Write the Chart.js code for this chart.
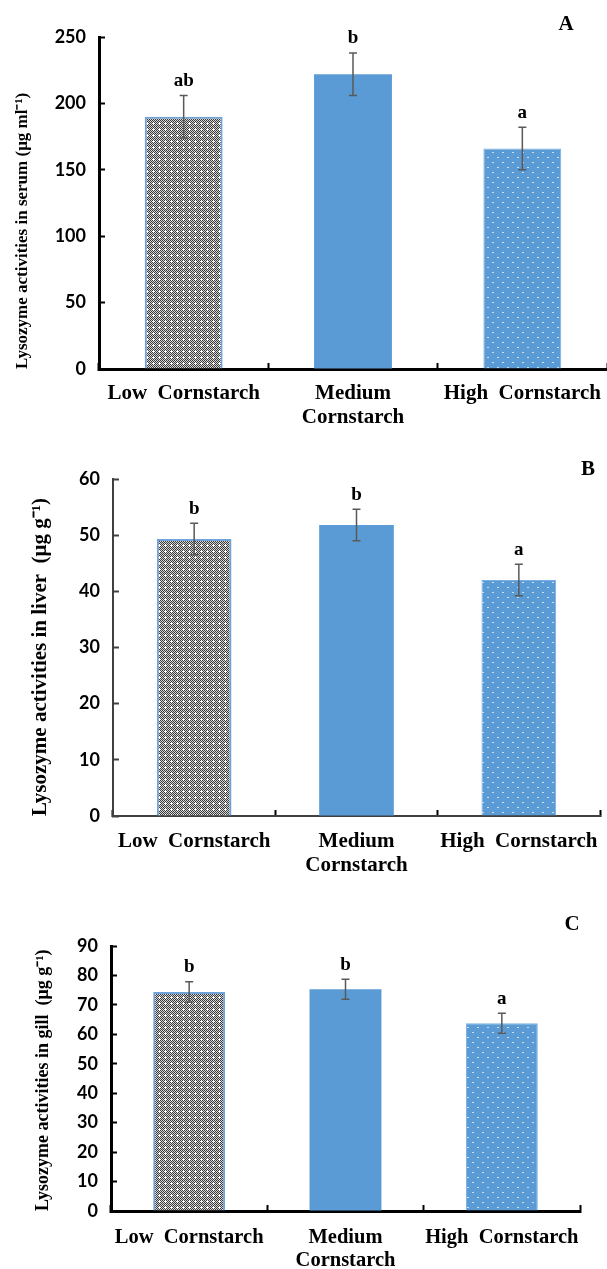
<!DOCTYPE html>
<html>
<head>
<meta charset="utf-8">
<script src="https://cdn.jsdelivr.net/npm/chart.js@4.4.1/dist/chart.umd.min.js"></script>
<style>
  html, body { margin: 0; padding: 0; background: #fff; }
  #wrap { position: relative; width: 607px; height: 1269px; }
  canvas { position: absolute; left: 0; }
</style>
</head>
<body>
<div id="wrap">
  <canvas id="chartA" style="top:0px"></canvas>
  <canvas id="chartB" style="top:440px"></canvas>
  <canvas id="chartC" style="top:880px"></canvas>
</div>
<script>
// data
const categories = ['Low  Cornstarch', ['Medium', 'Cornstarch'], 'High  Cornstarch'];

const serumMean = [190, 222, 166];
const serumErr = [16, 16, 16];
const serumLetters = ['ab', 'b', 'a'];

const liverMean = [49.3, 51.8, 42.0];
const liverErr = [2.8, 2.8, 2.8];
const liverLetters = ['b', 'b', 'a'];

const gillMean = [74.4, 75.3, 63.8];
const gillErr = [3.5, 3.4, 3.4];
const gillLetters = ['b', 'b', 'a'];

const blue = '#5b9bd5';

function grayPattern() {
    const c = document.createElement('canvas');
    c.width = 6; c.height = 6;
    const g = c.getContext('2d');
    for (let y = 0; y < 6; y++) {
        for (let x = 0; x < 6; x++) {
            g.fillStyle = (x + y) % 2 === 0 ? '#3a3a3a' : '#d6d6d6';
            g.fillRect(x, y, 1, 1);
        }
    }
    g.fillStyle = '#ffffff';
    g.fillRect(2, 3, 3, 1);
    g.fillRect(3, 2, 1, 3);
    return g.createPattern(c, 'repeat');
}

function dotPattern() {
    const c = document.createElement('canvas');
    c.width = 10; c.height = 10;
    const g = c.getContext('2d');
    g.fillStyle = blue;
    g.fillRect(0, 0, 10, 10);
    g.fillStyle = '#cfe0f2';
    g.fillRect(2, 2, 2, 1);
    g.fillRect(7, 7, 2, 1);
    return g.createPattern(c, 'repeat');
}

const errorBars = {
    id: 'errorBars',
    afterDatasetsDraw(chart, args, opts) {
        const ctx = chart.ctx;
        const y = chart.scales.y;
        const meta = chart.getDatasetMeta(0);
        const vals = chart.data.datasets[0].data;
        ctx.save();
        meta.data.forEach((bar, i) => {
            const top = y.getPixelForValue(vals[i] + opts.err[i]);
            const bot = y.getPixelForValue(vals[i] - opts.err[i]);
            ctx.strokeStyle = '#595959';
            ctx.lineWidth = 1.5;
            ctx.beginPath();
            ctx.moveTo(bar.x, top); ctx.lineTo(bar.x, bot);
            ctx.moveTo(bar.x - 4, top); ctx.lineTo(bar.x + 4, top);
            ctx.moveTo(bar.x - 4, bot); ctx.lineTo(bar.x + 4, bot);
            ctx.stroke();
            ctx.fillStyle = '#000';
            ctx.font = 'bold 19px "Liberation Serif"';
            ctx.textAlign = 'center';
            ctx.textBaseline = 'bottom';
            ctx.fillText(opts.letters[i], bar.x, top - 5);
        });
        ctx.font = 'bold 21px "Liberation Serif"';
        ctx.textAlign = 'center';
        ctx.textBaseline = 'middle';
        ctx.fillStyle = '#000';
        ctx.fillText(opts.panel, opts.panelX, opts.panelY);
        ctx.restore();
    }
};

function makeChart(id, h, cfg) {
    const el = document.getElementById(id);
    el.width = 607; el.height = h;
    el.style.width = '607px'; el.style.height = h + 'px';
    const ctx = el.getContext('2d');
    return new Chart(ctx, {
        type: 'bar',
        data: {
            labels: categories,
            datasets: [{
                data: cfg.values,
                backgroundColor: [grayPattern(), blue, dotPattern()],
                borderColor: ['#6fa3da', blue, '#7aaee0'],
                borderWidth: [2, 0, 1],
                borderSkipped: 'bottom',
                categoryPercentage: 1,
                barPercentage: 0.46
            }]
        },
        options: {
            responsive: false,
            animation: false,
            devicePixelRatio: 1,
            layout: { padding: { top: cfg.top, right: cfg.right, bottom: 0, left: 0 } },
            plugins: {
                legend: { display: false },
                tooltip: { enabled: false },
                errorBars: { err: cfg.err, letters: cfg.letters, panel: cfg.panel, panelX: cfg.panelX, panelY: cfg.panelY }
            },
            scales: {
                x: {
                    offset: true,
                    afterFit: s => { s.height = cfg.xH; s.paddingLeft = 0; s.paddingRight = 0; },
                    grid: { display: true, drawOnChartArea: false, offset: true, tickLength: -6, tickWidth: 2, tickColor: '#000' },
                    border: { color: cfg.axisColor, width: cfg.axisW },
                    ticks: {
                        color: '#000',
                        padding: cfg.xPad,
                        maxRotation: 0,
                        autoSkip: false,
                        font: { family: '"Liberation Serif"', weight: 'bold', size: cfg.xSize, lineHeight: 1.12 }
                    }
                },
                y: {
                    min: 0,
                    max: cfg.max,
                    afterFit: s => { s.width = cfg.yW; },
                    grid: { display: true, drawOnChartArea: false, tickLength: -6, tickWidth: 2, tickColor: cfg.axisColor },
                    border: { color: cfg.axisColor, width: cfg.axisW },
                    ticks: {
                        stepSize: cfg.step,
                        color: '#000',
                        padding: 19,
                        font: { family: 'Lato', weight: 'bold', size: 18 }
                    },
                    title: {
                        display: true,
                        text: cfg.title,
                        align: 'start',
                        color: '#000',
                        padding: { top: cfg.titlePad, bottom: 0 },
                        font: { family: '"Liberation Serif"', weight: 'bold', size: cfg.titleSize }
                    }
                }
            }
        },
        plugins: [errorBars]
    });
}

makeChart('chartA', 440, {
    values: serumMean, err: serumErr, letters: serumLetters,
    max: 250, step: 50, top: 37, right: 0, xH: 71, yW: 99, xPad: 19, xSize: 21,
    axisColor: '#000', axisW: 3,
    title: 'Lysozyme activities in serum (μg ml⁻¹)', titleSize: 17, titlePad: 12,
    panel: 'A', panelX: 566, panelY: 25
});

makeChart('chartB', 440, {
    values: liverMean, err: liverErr, letters: liverLetters,
    max: 60, step: 10, top: 39, right: 7, xH: 64, yW: 113, xPad: 20, xSize: 21,
    axisColor: '#404040', axisW: 2,
    title: 'Lysozyme activities in liver  (μg g⁻¹)', titleSize: 21, titlePad: 28,
    panel: 'B', panelX: 588, panelY: 30
});

makeChart('chartC', 389, {
    values: gillMean, err: gillErr, letters: gillLetters,
    max: 90, step: 10, top: 66, right: 27, xH: 58, yW: 111, xPad: 21, xSize: 20.5,
    axisColor: '#000', axisW: 3,
    title: 'Lysozyme activities in gill  (μg g⁻¹)', titleSize: 18, titlePad: 33,
    panel: 'C', panelX: 572, panelY: 45
});
</script>
</body>
</html>
